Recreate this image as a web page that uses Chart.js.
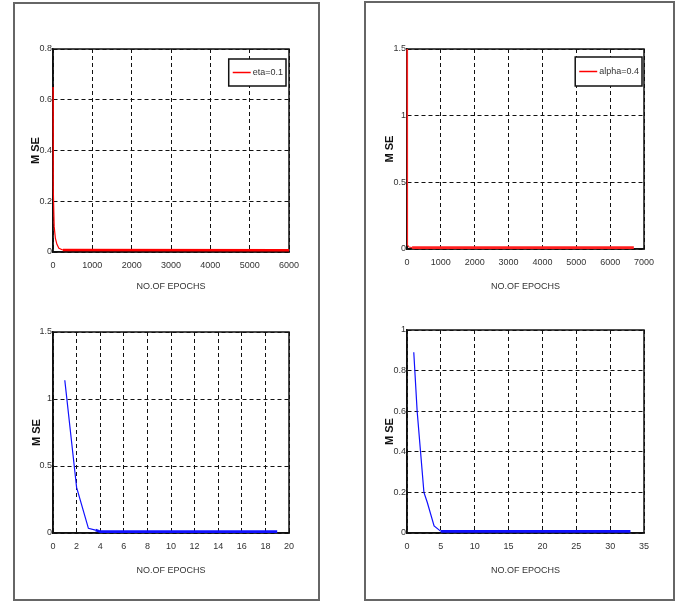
<!DOCTYPE html>
<html><head><meta charset="utf-8">
<script src="https://cdn.jsdelivr.net/npm/chart.js@4.4.1/dist/chart.umd.min.js"></script>
<style>
html,body{margin:0;padding:0;background:#fff;width:678px;height:601px;overflow:hidden;}
.panel{position:absolute;border:2px solid #666;box-sizing:border-box;}
.cv{position:absolute;}
</style></head><body>
<div class="panel" style="left:13px;top:2px;width:307px;height:599px"></div>
<div class="panel" style="left:364px;top:1px;width:311px;height:600px"></div>
<div class="cv" style="left:15px;top:4px;width:302px;height:296px"><canvas id="c1"></canvas></div>
<div class="cv" style="left:366px;top:3px;width:306px;height:297px"><canvas id="c2"></canvas></div>
<div class="cv" style="left:15px;top:300px;width:302px;height:298px"><canvas id="c3"></canvas></div>
<div class="cv" style="left:366px;top:300px;width:306px;height:298px"><canvas id="c4"></canvas></div>
<script>
// ---- data ----
const tlEpochs = [0, 3, 10, 30, 60, 100, 150, 250, 6000];
const tlMse    = [0.65, 0.40, 0.25, 0.10, 0.055, 0.03, 0.015, 0.008, 0.007];
const tlXTicks = [0, 1000, 2000, 3000, 4000, 5000, 6000];
const tlYTicks = [0, 0.2, 0.4, 0.6, 0.8];
const tlLegend = 'eta=0.1';

const trEpochs = [0, 8, 20, 60, 150, 6700];
const trMse    = [1.5, 0.07, 0.03, 0.015, 0.01, 0.01];
const trXTicks = [0, 1000, 2000, 3000, 4000, 5000, 6000, 7000];
const trYTicks = [0, 0.5, 1, 1.5];
const trLegend = 'alpha=0.4';

const blEpochs = [1, 1.8, 2, 3, 3.6, 4, 5, 6, 7, 8, 9, 10, 11, 12, 13, 14, 15, 16, 17, 18, 19];
const blMse    = [1.14, 0.50, 0.34, 0.035, 0.022, 0.01, 0.01, 0.01, 0.01, 0.01, 0.01, 0.01, 0.01, 0.01, 0.01, 0.01, 0.01, 0.01, 0.01, 0.01, 0.01];
const blXTicks = [0, 2, 4, 6, 8, 10, 12, 14, 16, 18, 20];
const blYTicks = [0, 0.5, 1, 1.5];

const brEpochs = [1, 1.5, 2, 2.5, 3, 4, 5, 6, 7, 8, 9, 10, 11, 12, 13, 14, 15, 16, 17, 18, 19, 20, 21, 22, 23, 24, 25, 26, 27, 28, 29, 30, 31, 32, 33];
const brMse    = [0.89, 0.60, 0.40, 0.20, 0.15, 0.035, 0.008, 0.008, 0.008, 0.008, 0.008, 0.008, 0.008, 0.008, 0.008, 0.008, 0.008, 0.008, 0.008, 0.008, 0.008, 0.008, 0.008, 0.008, 0.008, 0.008, 0.008, 0.008, 0.008, 0.008, 0.008, 0.008, 0.008, 0.008, 0.008];
const brXTicks = [0, 5, 10, 15, 20, 25, 30, 35];
const brYTicks = [0, 0.2, 0.4, 0.6, 0.8, 1];

const yTitle = 'M SE';
const xTitle = 'NO.OF EPOCHS';

// ---- styling / layout ----
const FONT = "'Liberation Sans Narrow','Arial Narrow','Liberation Sans',Arial,sans-serif";
const BOLD = "'Liberation Sans','Arial',sans-serif";

const framePlugin = {
  id: 'frame',
  beforeDatasetsDraw(chart) {
    const a = chart.chartArea, ctx = chart.ctx;
    ctx.save();
    ctx.strokeStyle = '#111';
    ctx.lineWidth = 1.5;
    ctx.strokeRect(a.left, a.top, a.right - a.left, a.bottom - a.top);
    ctx.restore();
  },
  afterDatasetsDraw(chart, args, opts) {
    if (!opts || !opts.text) return;
    const a = chart.chartArea, ctx = chart.ctx;
    ctx.save();
    ctx.font = '9px ' + FONT;
    const tw = ctx.measureText(opts.text).width;
    const w = 4 + 18 + 2 + tw + 3, h = opts.h;
    const x = a.right - opts.dx - w, y = a.top + opts.dy;
    ctx.fillStyle = '#fff';
    ctx.fillRect(x, y, w, h);
    ctx.strokeStyle = '#111';
    ctx.lineWidth = 1.5;
    ctx.strokeRect(x, y, w, h);
    ctx.strokeStyle = opts.color;
    ctx.lineWidth = 1.5;
    ctx.beginPath();
    ctx.moveTo(x + 4, y + h / 2);
    ctx.lineTo(x + 22, y + h / 2);
    ctx.stroke();
    ctx.fillStyle = '#333';
    ctx.textBaseline = 'middle';
    ctx.fillText(opts.text, x + 24, y + h / 2);
    ctx.restore();
  }
};

function build(id, cv, area, yTitleX, xTitleY, xs, ys, xTicks, yTicks, color, thickFrom, legend) {
  const left = area.l - cv.x, top = area.t - cv.y, right = area.r - cv.x, bottom = area.b - cv.y;
  const yBoxLeft = yTitleX - cv.x - 6;
  const yW = left - yBoxLeft;
  const xBoxBottom = xTitleY - cv.y + 6;
  const xH = xBoxBottom - bottom;
  const grid = { color: '#111', lineWidth: 1, drawTicks: false };
  const border = { display: true, color: '#111', width: 1.5, dash: [4, 3] };
  const tickFont = { family: FONT, size: 9 };
  new Chart(document.getElementById(id), {
    type: 'line',
    data: {
      datasets: [{
        data: xs.map((x, i) => ({ x: x, y: ys[i] })),
        borderColor: color,
        borderWidth: 1.2,
        pointRadius: 0,
        tension: 0,
        clip: false,
        segment: { borderWidth: c => (c.p0.parsed.x >= thickFrom ? 2.6 : 1.2) }
      }]
    },
    options: {
      responsive: true,
      maintainAspectRatio: false,
      animation: false,
      events: [],
      layout: { padding: { left: yBoxLeft, top: top, right: cv.w - right, bottom: cv.h - xBoxBottom } },
      plugins: { legend: { display: false }, tooltip: { enabled: false }, frame: legend || {} },
      scales: {
        x: {
          type: 'linear', min: xTicks[0], max: xTicks[xTicks.length - 1],
          afterBuildTicks: s => { s.ticks = xTicks.map(v => ({ value: v })); },
          afterFit: s => { s.height = xH; },
          ticks: { font: tickFont, color: '#333', padding: 8, maxRotation: 0, autoSkip: false, callback: v => String(v) },
          title: { display: true, text: xTitle, font: { family: FONT, size: 9 }, color: '#333', padding: 0 },
          grid: grid, border: border
        },
        y: {
          type: 'linear', min: yTicks[0], max: yTicks[yTicks.length - 1],
          afterBuildTicks: s => { s.ticks = yTicks.map(v => ({ value: v })); },
          afterFit: s => { s.width = yW; },
          ticks: { font: tickFont, color: '#333', padding: 1, autoSkip: false, callback: v => String(v) },
          title: { display: true, text: yTitle, font: { family: BOLD, size: 11, weight: 'bold' }, color: '#111', padding: 0 },
          grid: grid, border: border
        }
      }
    },
    plugins: [framePlugin]
  });
}

build('c1', { x: 15, y: 4, w: 302, h: 296 }, { l: 53, t: 49, r: 289, b: 252 }, 35, 286,
  tlEpochs, tlMse, tlXTicks, tlYTicks, '#ff0000', 200, { text: tlLegend, color: '#ff0000', dx: 3, dy: 10, h: 27 });
build('c2', { x: 366, y: 3, w: 306, h: 297 }, { l: 407, t: 49, r: 644, b: 249 }, 389, 286,
  trEpochs, trMse, trXTicks, trYTicks, '#ff2020', 100, { text: trLegend, color: '#ff0000', dx: 2, dy: 8, h: 29 });
build('c3', { x: 15, y: 300, w: 302, h: 298 }, { l: 53, t: 332, r: 289, b: 533 }, 36, 570,
  blEpochs, blMse, blXTicks, blYTicks, '#1010ff', 3.6, null);
build('c4', { x: 366, y: 300, w: 306, h: 298 }, { l: 407, t: 330, r: 644, b: 533 }, 389, 570,
  brEpochs, brMse, brXTicks, brYTicks, '#1010ff', 5, null);
</script>
</body></html>
